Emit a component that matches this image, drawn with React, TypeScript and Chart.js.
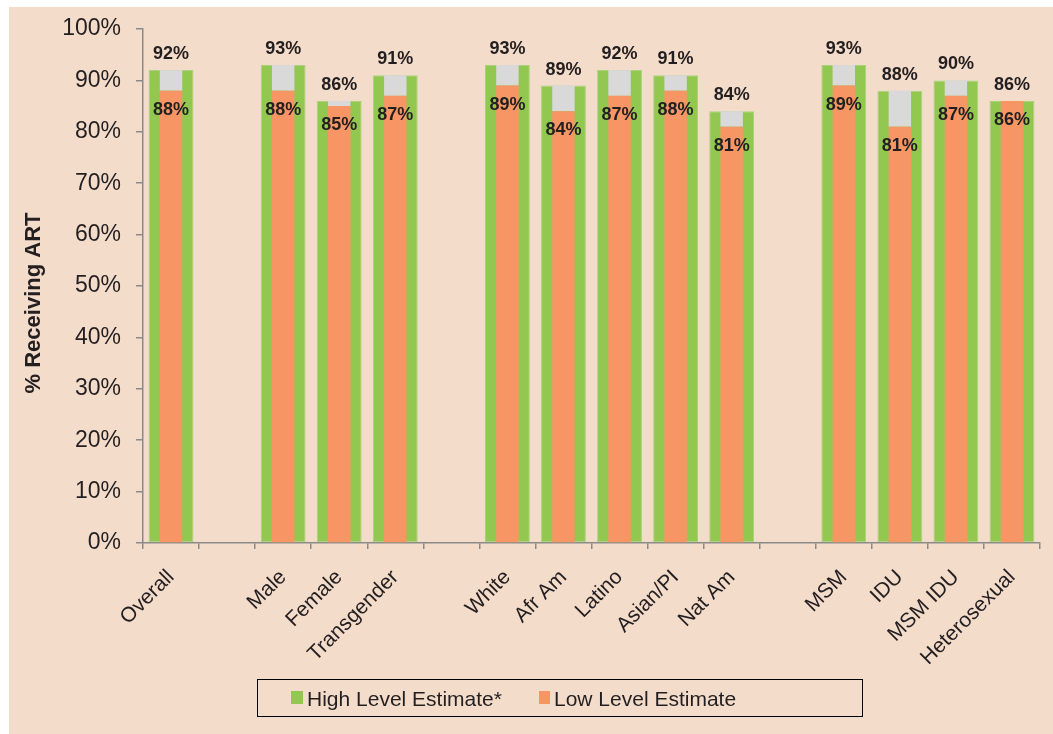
import React, { useEffect, useRef } from 'react';
import { Chart, registerables } from 'chart.js';

Chart.register(...registerables);

const categories = ['Overall', '', 'Male', 'Female', 'Transgender', '', 'White', 'Afr Am', 'Latino', 'Asian/PI', 'Nat Am', '', 'MSM', 'IDU', 'MSM IDU', 'Heterosexual'];
const highEstimate = [92, null, 93, 86, 91, null, 93, 89, 92, 91, 84, null, 93, 88, 90, 86];
const lowEstimate = [88, null, 88, 85, 87, null, 89, 84, 87, 88, 81, null, 89, 81, 87, 86];
const seriesNames = ['High Level Estimate*', 'Low Level Estimate'];
const yAxisTitle = '% Receiving ART';

const FONT = '"Liberation Sans", Arial, sans-serif';
const TEXT = '#231F20';
const GREEN = '#92C850';
const ORANGE = '#F79664';
const GREY = '#D9D9D9';
const BG = '#F4DCCB';
const AXIS = '#8a8a8a';

const valueLabels = {
  id: 'valueLabels',
  afterDatasetsDraw(chart: any) {
    const ctx = chart.ctx;
    const hi = chart.getDatasetMeta(0);
    const lo = chart.getDatasetMeta(1);
    ctx.save();
    ctx.font = `bold 18px ${FONT}`;
    ctx.fillStyle = TEXT;
    ctx.textAlign = 'center';
    ctx.textBaseline = 'middle';
    highEstimate.forEach((v, i) => {
      if (v == null) return;
      const el = hi.data[i];
      ctx.fillText(v + '%', el.x, el.y - 16);
    });
    lowEstimate.forEach((v, i) => {
      if (v == null) return;
      const el = lo.data[i];
      ctx.fillText(v + '%', el.x, el.y + 19);
    });
    ctx.restore();
  },
};

const extras = {
  id: 'extras',
  afterDraw(chart: any) {
    const ctx = chart.ctx;
    ctx.save();
    // y axis title
    ctx.translate(25, 296);
    ctx.rotate(-Math.PI / 2);
    ctx.font = `bold 22px ${FONT}`;
    ctx.fillStyle = TEXT;
    ctx.textAlign = 'center';
    ctx.textBaseline = 'middle';
    ctx.fillText(yAxisTitle, 0, 0);
    ctx.restore();

    // legend
    ctx.save();
    ctx.strokeStyle = '#000';
    ctx.lineWidth = 1;
    ctx.strokeRect(248.5, 672.5, 605, 37);
    ctx.font = `21px ${FONT}`;
    ctx.textAlign = 'left';
    ctx.textBaseline = 'alphabetic';
    ctx.fillStyle = GREEN;
    ctx.fillRect(282, 684, 12, 13);
    ctx.fillStyle = TEXT;
    ctx.fillText(seriesNames[0], 298, 698.5);
    ctx.fillStyle = ORANGE;
    ctx.fillRect(530, 684, 11, 13);
    ctx.fillStyle = TEXT;
    ctx.fillText(seriesNames[1], 545, 698.5);
    ctx.restore();
  },
};

export default function App() {
  const ref = useRef<HTMLCanvasElement | null>(null);

  useEffect(() => {
    if (!ref.current) return;
    const greyData = categories.map((_, i) =>
      highEstimate[i] == null || lowEstimate[i] == null ? null : [lowEstimate[i], highEstimate[i]]
    );
    const chart = new Chart(ref.current, {
      type: 'bar',
      data: {
        labels: categories,
        datasets: [
          {
            label: seriesNames[0],
            data: highEstimate,
            backgroundColor: GREEN,
            borderColor: '#A8D37C',
            borderWidth: 1,
            borderSkipped: false,
            grouped: false,
            categoryPercentage: 1,
            barPercentage: 0.8,
            order: 3,
          } as any,
          {
            label: seriesNames[1],
            data: lowEstimate,
            backgroundColor: ORANGE,
            borderWidth: 0,
            grouped: false,
            categoryPercentage: 1,
            barPercentage: 0.4,
            order: 1,
          } as any,
          {
            label: 'gap',
            data: greyData as any,
            backgroundColor: GREY,
            borderWidth: 0,
            grouped: false,
            categoryPercentage: 1,
            barPercentage: 0.4,
            order: 2,
          } as any,
        ],
      },
      options: {
        responsive: false,
        maintainAspectRatio: false,
        animation: false,
        layout: { padding: { top: 22, right: 13, bottom: 0, left: 0 } },
        plugins: {
          legend: { display: false },
          tooltip: { enabled: false },
          title: { display: false },
        },
        scales: {
          x: {
            type: 'category',
            offset: true,
            grid: {
              display: true,
              drawOnChartArea: false,
              drawTicks: true,
              tickLength: 6,
              color: AXIS,
              lineWidth: 1.5,
              offset: true,
            },
            border: { display: true, color: AXIS, width: 1.5 },
            ticks: {
              autoSkip: false,
              maxRotation: 45,
              minRotation: 45,
              padding: 16,
              color: TEXT,
              font: { family: FONT, size: 21 },
            },
            afterFit(scale: any) {
              scale.height = 191;
              scale.paddingLeft = 0;
              scale.paddingRight = 0;
            },
          },
          y: {
            min: 0,
            max: 100,
            grid: {
              display: true,
              drawOnChartArea: false,
              drawTicks: true,
              tickLength: 7,
              color: AXIS,
              lineWidth: 1.5,
            },
            border: { display: true, color: AXIS, width: 1.5 },
            ticks: {
              stepSize: 10,
              padding: 15,
              color: TEXT,
              font: { family: FONT, size: 23 },
              callback: (v: any) => v + '%',
            },
            afterFit(scale: any) {
              scale.width = 134;
              scale.paddingTop = 0;
              scale.paddingBottom = 0;
            },
          },
        },
      },
      plugins: [valueLabels, extras],
    });
    return () => chart.destroy();
  }, []);

  return (
    <div
      style={{
        position: 'absolute',
        left: 9,
        top: 7,
        width: 1044,
        height: 727,
        background: BG,
      }}
    >
      <canvas ref={ref} width={1044} height={727} style={{ display: 'block', width: 1044, height: 727 }} />
    </div>
  );
}
